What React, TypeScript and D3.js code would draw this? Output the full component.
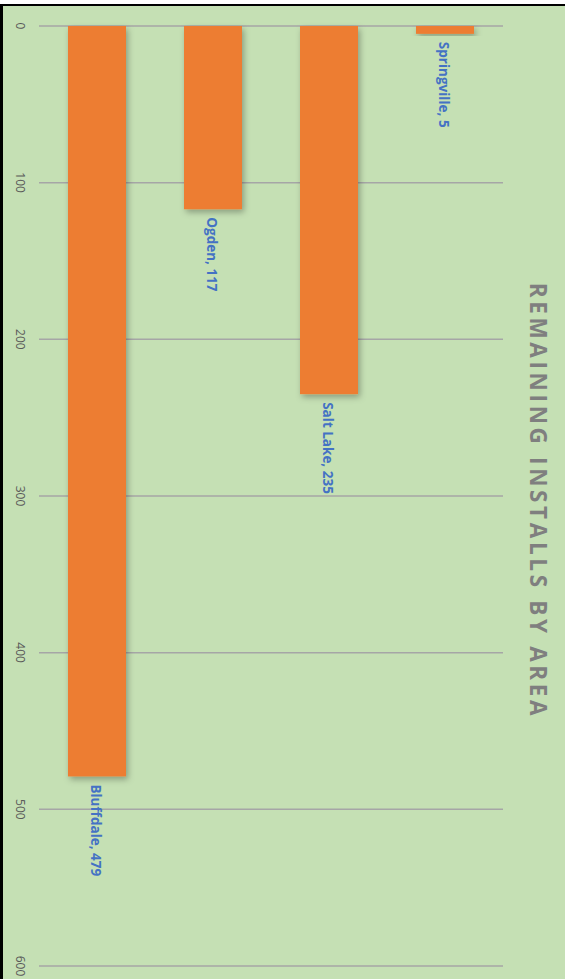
import React from "react";
import * as d3 from "d3";

const categories = ["Bluffdale", "Ogden", "Salt Lake", "Springville"];
const values = [479, 117, 235, 5];
const tickValues = [0, 100, 200, 300, 400, 500, 600];
const title = "REMAINING INSTALLS BY AREA";

const W = 565;
const H = 979;

export default function App() {
  const y = d3.scaleLinear().domain([0, 600]).range([26, 966]);
  const x = d3.scaleBand<string>().domain(categories).range([39, 503]).paddingInner(0.5).paddingOuter(0.25);
  const bw = x.bandwidth();
  return (
    <svg width={W} height={H} style={{ position: "absolute", left: 0, top: 0 }}>
      <defs>
        <filter id="sh" x="-30%" y="-10%" width="160%" height="130%">
          <feDropShadow dx="2" dy="3" stdDeviation="3" floodColor="#000" floodOpacity="0.3" />
        </filter>
      </defs>
      <rect x={0} y={0} width={W} height={H} fill="#ffffff" />
      <rect x={0} y={4} width={W} height={H - 4} fill="#C5E0B4" />
      <rect x={0} y={4} width={W} height={2} fill="#000" />
      <rect x={0} y={4} width={3} height={H - 4} fill="#000" />
      {tickValues.map((t) => (
        <g key={t}>
          <line x1={39} x2={503} y1={y(t)} y2={y(t)} stroke="#A6A6A6" strokeWidth={1.5} />
          <text
            transform={`translate(20,${y(t)}) rotate(90)`}
            textAnchor="middle"
            dominantBaseline="central"
            fontFamily="'Open Sans', sans-serif"
            fontSize={12}
            fill="#595959"
          >
            {t}
          </text>
        </g>
      ))}
      {categories.map((c, i) => (
        <rect
          key={c}
          x={x(c)!}
          y={y(0)}
          width={bw}
          height={y(values[i]) - y(0)}
          fill="#ED7D31"
          filter="url(#sh)"
        />
      ))}
      {categories.map((c, i) => (
        <text
          key={c}
          transform={`translate(${x(c)! + bw / 2 - 1},${y(values[i]) + 8}) rotate(90)`}
          textAnchor="start"
          dominantBaseline="central"
          fontFamily="'Open Sans', sans-serif"
          fontWeight="bold"
          fontSize={13.5}
          fill="#4472C4"
        >
          {`${c}, ${values[i]}`}
        </text>
      ))}
      <text
        transform={`translate(538,501) rotate(90)`}
        textAnchor="middle"
        dominantBaseline="central"
        fontFamily="'Open Sans', sans-serif"
        fontWeight="bold"
        fontSize={22.5}
        letterSpacing={3.65}
        fill="#7F7F7F"
      >
        {title}
      </text>
    </svg>
  );
}
